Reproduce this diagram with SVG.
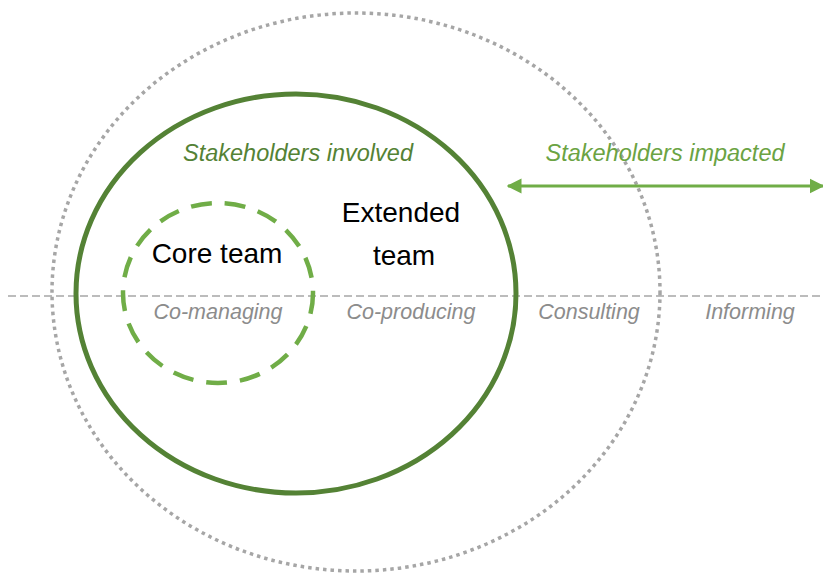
<svg xmlns="http://www.w3.org/2000/svg" width="823" height="574" viewBox="0 0 823 574">
<defs>
<style>
.lbl{font-family:"Liberation Sans",Arial,sans-serif;font-style:italic;font-size:21.5px;fill:#8c8c8c;text-anchor:middle}
.grn{font-family:"Liberation Sans",Arial,sans-serif;font-style:italic;font-size:23.5px;text-anchor:middle}
.blk{font-family:"Liberation Sans",Arial,sans-serif;font-size:28px;fill:#000;text-anchor:middle}
</style>
<marker id="ah" viewBox="0 0 10 10" refX="9" refY="5" markerWidth="5" markerHeight="5.3" orient="auto-start-reverse" markerUnits="strokeWidth">
<path d="M0,0 L10,5 L0,10 z" fill="#70AD47"/>
</marker>
</defs>
<rect width="823" height="574" fill="#fff"/>
<g id="impacted">
<ellipse cx="356" cy="292" rx="304" ry="279" fill="none" stroke="#A6A6A6" stroke-width="3.5" stroke-dasharray="3.5 4"/>
</g>
<g id="divider">
<line x1="8" y1="296" x2="823" y2="296" stroke="#A6A6A6" stroke-width="1.5" stroke-dasharray="8 4"/>
</g>
<g id="involved">
<ellipse cx="296" cy="293.5" rx="220" ry="199.5" fill="none" stroke="#548235" stroke-width="5"/>
<text class="grn" x="298" y="161" fill="#548235">Stakeholders involved</text>
</g>
<g id="core">
<ellipse cx="218" cy="293" rx="95" ry="90" fill="none" stroke="#70AD47" stroke-width="4.5" stroke-dasharray="21 13"/>
<text class="blk" x="217" y="263">Core team</text>
</g>
<g id="extended">
<text class="blk" x="401" y="222">Extended</text>
<text class="blk" x="404" y="265">team</text>
</g>
<g id="labels">
<text class="lbl" x="218" y="319">Co-managing</text>
<text class="lbl" x="411" y="319">Co-producing</text>
<text class="lbl" x="589" y="319">Consulting</text>
<text class="lbl" x="750" y="319">Informing</text>
<text class="grn" x="665" y="161" fill="#6BA343">Stakeholders impacted</text>
</g>
<g id="connectors">
<line x1="508" y1="186" x2="823" y2="186" stroke="#70AD47" stroke-width="3" marker-start="url(#ah)" marker-end="url(#ah)"/>
</g>
</svg>
